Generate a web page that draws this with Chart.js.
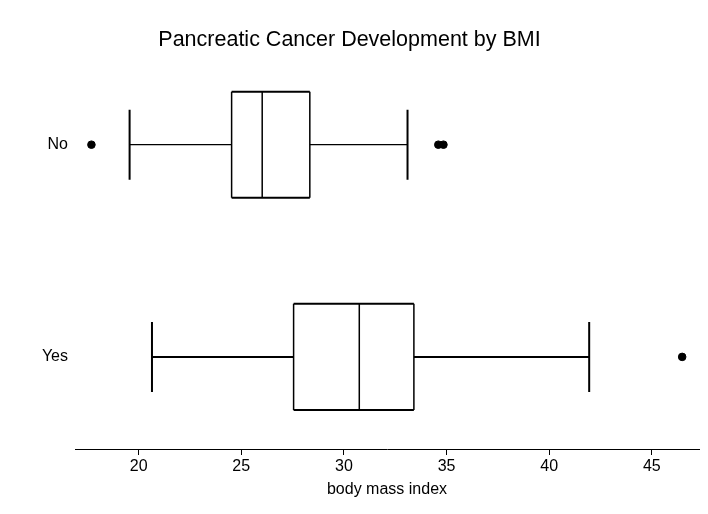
<!DOCTYPE html>
<html>
<head>
<meta charset="utf-8">
<script src="https://cdn.jsdelivr.net/npm/chart.js@4"></script>
<style>
  html, body { margin: 0; padding: 0; background: #fff; }
  #wrap { width: 708px; height: 514px; }
</style>
</head>
<body>
<div id="wrap"><canvas id="bmiChart" width="708" height="514"></canvas></div>
<script>
// Box plot summary per group
const groups = ['No', 'Yes'];
const groupPos = [1, 2];
const whiskerLow = [19.56, 20.65];
const q1 = [24.53, 27.55];
const median = [26.02, 30.75];
const q3 = [28.34, 33.41];
const whiskerHigh = [33.10, 41.95];
const outliersNo = [17.70, 34.60, 34.85];
const outliersYes = [46.48];
const xTicks = [20, 25, 30, 35, 40, 45];

const FONT = "'Liberation Sans', Arial, sans-serif";

// draws boxes + whiskers using the chart scales
const boxPlotPlugin = {
  id: 'boxPlot',
  beforeDatasetsDraw(chart) {
    const { ctx, scales: { x, y } } = chart;
    const boxHalf = 0.25;
    const capHalf = 0.165;
    ctx.save();
    ctx.strokeStyle = '#000';
    groupPos.forEach((g, i) => {
      const yc = y.getPixelForValue(g);
      const yTop = y.getPixelForValue(g - boxHalf);
      const yBot = y.getPixelForValue(g + boxHalf);
      const cTop = y.getPixelForValue(g - capHalf);
      const cBot = y.getPixelForValue(g + capHalf);
      const xL = x.getPixelForValue(whiskerLow[i]);
      const x1 = x.getPixelForValue(q1[i]);
      const xm = x.getPixelForValue(median[i]);
      const x3 = x.getPixelForValue(q3[i]);
      const xH = x.getPixelForValue(whiskerHigh[i]);

      // whiskers
      ctx.lineWidth = i === 0 ? 1.2 : 2;
      ctx.beginPath();
      ctx.moveTo(xL, yc); ctx.lineTo(x1, yc);
      ctx.moveTo(x3, yc); ctx.lineTo(xH, yc);
      ctx.stroke();
      ctx.lineWidth = 2;
      ctx.beginPath();
      ctx.moveTo(xL, cTop); ctx.lineTo(xL, cBot);
      ctx.moveTo(xH, cTop); ctx.lineTo(xH, cBot);
      ctx.stroke();

      // box
      ctx.fillStyle = '#fff';
      ctx.fillRect(x1, yTop, x3 - x1, yBot - yTop);
      ctx.lineWidth = 2;
      ctx.beginPath();
      ctx.moveTo(x1, yTop); ctx.lineTo(x3, yTop);
      ctx.moveTo(x1, yBot); ctx.lineTo(x3, yBot);
      ctx.stroke();
      ctx.lineWidth = 1.5;
      ctx.beginPath();
      ctx.moveTo(x1, yTop); ctx.lineTo(x1, yBot);
      ctx.moveTo(x3, yTop); ctx.lineTo(x3, yBot);
      ctx.moveTo(xm, yTop); ctx.lineTo(xm, yBot);
      ctx.stroke();
    });
    ctx.restore();
  }
};

const outlierPoints = [
  ...outliersNo.map(v => ({ x: v, y: groupPos[0] })),
  ...outliersYes.map(v => ({ x: v, y: groupPos[1] }))
];

new Chart(document.getElementById('bmiChart'), {
  type: 'scatter',
  data: {
    datasets: [{
      data: outlierPoints,
      backgroundColor: '#000',
      borderColor: '#000',
      pointRadius: 3.8,
      pointHoverRadius: 3.8
    }]
  },
  options: {
    responsive: false,
    animation: false,
    layout: { padding: { left: 0, right: 9, top: 0, bottom: 0 } },
    plugins: {
      legend: { display: false },
      tooltip: { enabled: false },
      title: {
        display: true,
        text: 'Pancreatic Cancer Development by BMI',
        color: '#000',
        font: { family: FONT, size: 21.5, weight: 'normal' },
        padding: { top: 27, bottom: 7 }
      }
    },
    scales: {
      x: {
        type: 'linear',
        min: 16.9,
        max: 47.3,
        afterBuildTicks: (s) => { s.ticks = xTicks.map(v => ({ value: v })); },
        afterFit: (s) => { s.height = 65; },
        grid: {
          display: true,
          drawOnChartArea: false,
          drawTicks: true,
          tickLength: 6,
          color: '#000'
        },
        border: { display: true, color: '#000', width: 1 },
        ticks: {
          color: '#000',
          padding: 2,
          maxRotation: 0,
          font: { family: FONT, size: 16 }
        },
        title: {
          display: true,
          text: 'body mass index',
          color: '#000',
          font: { family: FONT, size: 16 },
          padding: { top: 0, bottom: 15 }
        }
      },
      y: {
        type: 'linear',
        reverse: true,
        min: 0.6,
        max: 2.434,
        afterBuildTicks: (s) => { s.ticks = groupPos.map(v => ({ value: v })); },
        afterFit: (s) => { s.width = 75; },
        grid: { display: false, drawTicks: false },
        border: { display: false },
        ticks: {
          color: '#000',
          padding: 7,
          font: { family: FONT, size: 16 },
          callback: (v) => groups[groupPos.indexOf(v)] ?? ''
        }
      }
    }
  },
  plugins: [boxPlotPlugin]
});
</script>
</body>
</html>
